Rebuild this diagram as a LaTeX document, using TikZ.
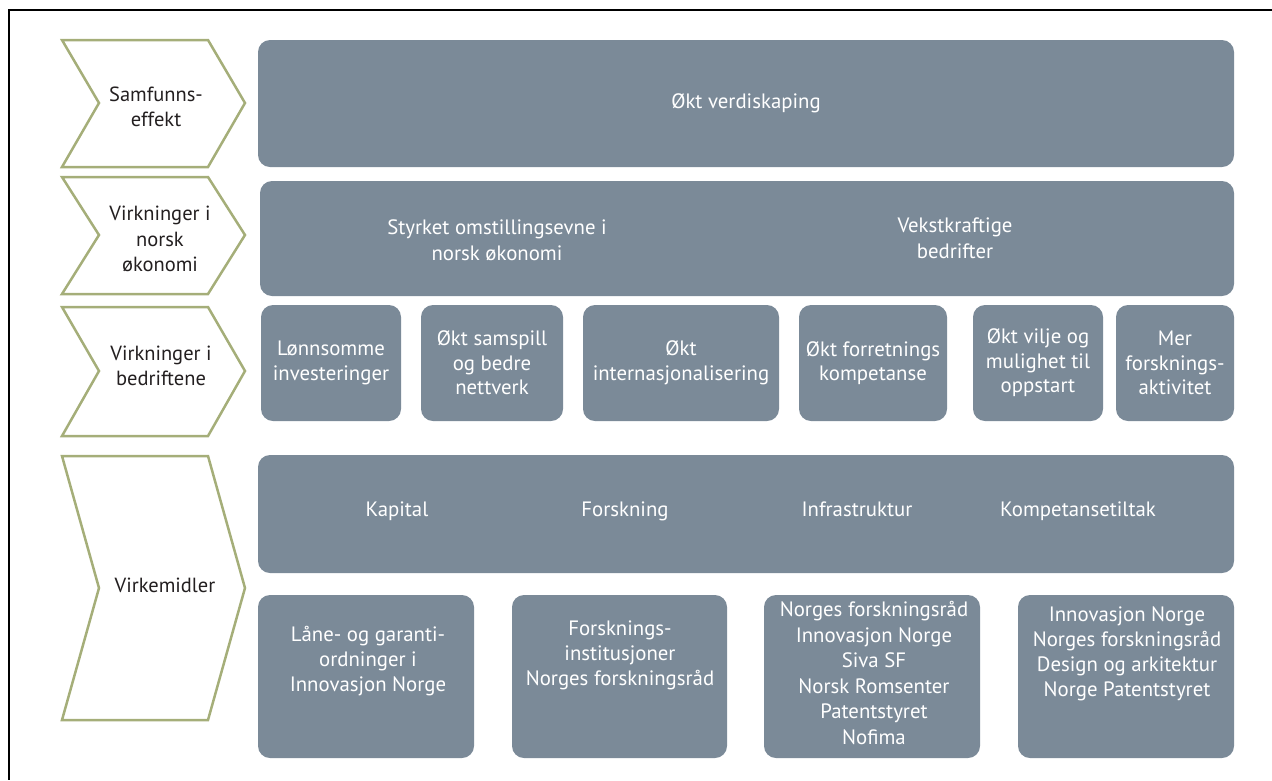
\documentclass[tikz,border=0pt]{standalone}
\usepackage{fontspec}
\setmainfont{PT Sans}
\definecolor{boxgray}{HTML}{7B8A98}
\definecolor{olive}{HTML}{A5AE79}
\definecolor{ink}{HTML}{231F20}
\tikzset{
  gbox/.style={fill=boxgray, rounded corners=12pt, inner sep=0pt, text=white, align=center,
    font=\fontsize{20.8}{24.5}\selectfont},
  wtext/.style={text=white, align=center, inner sep=0pt, font=\fontsize{20.8}{25}\selectfont},
  ltext/.style={text=ink, align=center, inner sep=0pt, font=\fontsize{20.5}{25.5}\selectfont},
  chev/.style={draw=olive, line width=2.5pt, line join=miter},
}
\begin{document}
\begin{tikzpicture}[x=1pt, y=-1pt]
  \useasboundingbox (0,0) rectangle (1272,780);
  \draw[line width=2pt] (1272,10) -- (9,10) -- (9,780);
  % chevrons on the left
  \foreach \t/\b/\m in {40/167/103, 177/294/235, 307/436/371, 456/720/588}
    \draw[chev] (62,\t) -- (208,\t) -- (245,\m) -- (208,\b) -- (62,\b) -- (99,\m) -- cycle;
  \node[ltext] (samf) at (156,107) {Samfunns-\\effekt};
  \node[ltext] (okon) at (160,239) {Virkninger i\\norsk\\økonomi};
  \node[ltext] (bedr) at (161,366) {Virkninger i\\bedriftene};
  \node[ltext] (virk) at (165,585) {Virkemidler};
  % samfunnseffekt
  \node[gbox, minimum width=976pt, minimum height=127pt] (verdi) at (746,103.5) {Økt verdiskaping};
  % virkninger i norsk okonomi
  \node[gbox, minimum width=974pt, minimum height=115pt] (norsk) at (747,238.5) {};
  \node[wtext, font=\fontsize{20.8}{26}\selectfont] (omst) at (497,240) {Styrket omstillingsevne i\\norsk økonomi};
  \node[wtext, font=\fontsize{20.8}{26}\selectfont] (vekst) at (955,238) {Vekstkraftige\\bedrifter};
  % virkninger i bedriftene
  \node[gbox, minimum width=140pt, minimum height=116pt] (lonn) at (331,363) {Lønnsomme\\investeringer};
  \node[gbox, minimum width=142pt, minimum height=116pt] (samsp) at (492,363) {Økt samspill\\og bedre\\nettverk};
  \node[gbox, minimum width=196pt, minimum height=116pt] (inter) at (681,363) {Økt\\internasjonalisering};
  \node[gbox, minimum width=148pt, minimum height=116pt] (forr) at (873,363) {Økt forretnings\\kompetanse};
  \node[gbox, minimum width=130pt, minimum height=116pt] (vilje) at (1038,363) {Økt vilje og\\mulighet til\\oppstart};
  \node[gbox, minimum width=118pt, minimum height=116pt] (fakt) at (1175,363) {Mer\\forsknings-\\aktivitet};
  % virkemidler
  \node[gbox, minimum width=976pt, minimum height=118pt] (midl) at (746,514) {};
  \node[wtext, anchor=base] (kap) at (397,516) {Kapital};
  \node[wtext, anchor=base] (fors) at (625,516) {Forskning};
  \node[wtext, anchor=base] (infra) at (857,516) {Infrastruktur};
  \node[wtext, anchor=base] (komp) at (1078,516) {Kompetansetiltak};
  \node[gbox, minimum width=216pt, minimum height=163pt] (akt1) at (366,676.5) {};
  \node[gbox, minimum width=215pt, minimum height=163pt] (akt2) at (619.5,676.5) {};
  \node[gbox, minimum width=216pt, minimum height=163pt] (akt3) at (872,676.5) {};
  \node[gbox, minimum width=216pt, minimum height=163pt] (akt4) at (1126,676.5) {};
  \node[wtext] (laan) at (368,661) {Låne- og garanti-\\ordninger i\\Innovasjon Norge};
  \node[wtext] (inst) at (620,655) {Forsknings-\\institusjoner\\Norges forskningsråd};
  \node[wtext, font=\fontsize{20.8}{25.6}\selectfont] (aktr) at (874,673) {Norges forskningsråd\\Innovasjon Norge\\Siva SF\\Norsk Romsenter\\Patentstyret\\Nofima};
  \node[wtext] (kompa) at (1127,654) {Innovasjon Norge\\Norges forskningsråd\\Design og arkitektur\\Norge Patentstyret};
\end{tikzpicture}
\end{document}
